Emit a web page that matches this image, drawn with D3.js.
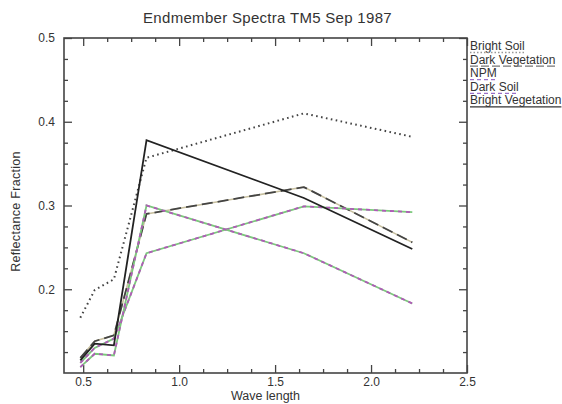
<!DOCTYPE html>
<html><head><meta charset="utf-8">
<script src="https://cdn.jsdelivr.net/npm/d3@7/dist/d3.min.js"></script>
<style>
html,body{margin:0;padding:0;background:#fff;overflow:hidden;}
text{font-family:"Liberation Sans","DejaVu Sans",sans-serif;fill:#333;}
</style></head>
<body>
<svg id="c" width="562" height="404"></svg>
<script>
// ---- data ----
const wavelengths = [0.485, 0.56, 0.66, 0.83, 1.65, 2.215];
const seriesNames = ["Bright Soil", "Dark Vegetation", "NPM", "Dark Soil", "Bright Vegetation"];
const brightSoil = [0.166, 0.199, 0.212, 0.357, 0.410, 0.382];
const darkVegetation = [0.118, 0.138, 0.145, 0.290, 0.322, 0.256];
const npm = [0.112, 0.130, 0.141, 0.243, 0.299, 0.292];
const darkSoil = [0.107, 0.123, 0.121, 0.300, 0.243, 0.183];
const brightVegetation = [0.115, 0.135, 0.133, 0.378, 0.309, 0.248];
const xTicks = [0.5, 1.0, 1.5, 2.0, 2.5];
const yTicks = [0.2, 0.3, 0.4, 0.5];
const titleText = "Endmember Spectra TM5 Sep 1987";
const xLabel = "Wave length";
const yLabel = "Reflectance Fraction";

const series = [
  {name: seriesNames[0], values: brightSoil, style: "dotted"},
  {name: seriesNames[1], values: darkVegetation, style: "longdash"},
  {name: seriesNames[2], values: npm, style: "color"},
  {name: seriesNames[3], values: darkSoil, style: "color"},
  {name: seriesNames[4], values: brightVegetation, style: "solid"}
];

const L = 64, R = 467, T = 38, B = 373;
const svg = d3.select("#c");
const x = d3.scaleLinear().domain([0.4, 2.5]).range([L, R]);
const y = d3.scaleLinear().domain([0.1, 0.5]).range([B, T]);

const xMinor = d3.range(0.375, 2.5001, 0.125).filter(v => v > 0.4 && Math.abs(v*2 - Math.round(v*2)) > 1e-6);
const yMinor = d3.range(0.1, 0.5001, 0.025).filter(v => v > 0.1001 && Math.abs(v*10 - Math.round(v*10)) > 1e-6);

const axColor = "#444";
function styleAxis(g){
  g.selectAll("path.domain").remove();
  g.selectAll("line").attr("stroke", axColor).attr("stroke-width", 1.3);
  g.selectAll("text").attr("font-size", 12).attr("fill", "#444")
    .style("font-family", '"Liberation Sans","DejaVu Sans",sans-serif');
}
// bottom
svg.append("g").attr("transform",`translate(0,${B})`)
  .call(d3.axisBottom(x).tickValues(xTicks).tickFormat(d3.format(".1f")).tickSize(-8).tickPadding(4))
  .call(styleAxis);
svg.append("g").attr("transform",`translate(0,${B})`)
  .call(d3.axisBottom(x).tickValues(xMinor).tickFormat("").tickSize(-4)).call(styleAxis);
// top
svg.append("g").attr("transform",`translate(0,${T})`)
  .call(d3.axisTop(x).tickValues(xTicks).tickFormat("").tickSize(-8)).call(styleAxis);
svg.append("g").attr("transform",`translate(0,${T})`)
  .call(d3.axisTop(x).tickValues(xMinor).tickFormat("").tickSize(-4)).call(styleAxis);
// left
svg.append("g").attr("transform",`translate(${L},0)`)
  .call(d3.axisLeft(y).tickValues(yTicks).tickFormat(d3.format(".1f")).tickSize(-8).tickPadding(9))
  .call(styleAxis);
svg.append("g").attr("transform",`translate(${L},0)`)
  .call(d3.axisLeft(y).tickValues(yMinor).tickFormat("").tickSize(-4)).call(styleAxis);
// right
svg.append("g").attr("transform",`translate(${R},0)`)
  .call(d3.axisRight(y).tickValues(yTicks).tickFormat("").tickSize(-8)).call(styleAxis);
svg.append("g").attr("transform",`translate(${R},0)`)
  .call(d3.axisRight(y).tickValues(yMinor).tickFormat("").tickSize(-4)).call(styleAxis);

// frame
svg.append("rect").attr("x", L).attr("y", T).attr("width", R-L).attr("height", B-T)
  .attr("fill","none").attr("stroke", axColor).attr("stroke-width", 1.6);

// lines
const line = d3.line().x((d,i)=>x(wavelengths[i])).y(d=>y(d));
const lg = svg.append("g");
series.forEach(s => {
  if (s.style === "dotted") {
    lg.append("path").attr("d", line(s.values)).attr("fill","none")
      .attr("stroke","#444").attr("stroke-width",2).attr("stroke-dasharray","1.6,3.4");
  } else if (s.style === "longdash") {
    lg.append("path").attr("d", line(s.values)).attr("fill","none")
      .attr("stroke","#c8c0a0").attr("stroke-width",1.6);
    lg.append("path").attr("d", line(s.values)).attr("fill","none")
      .attr("stroke","#444").attr("stroke-width",1.8).attr("stroke-dasharray","11,5");
  } else if (s.style === "color") {
    lg.append("path").attr("d", line(s.values)).attr("fill","none")
      .attr("stroke","#7cc87c").attr("stroke-width",1.8);
    lg.append("path").attr("d", line(s.values)).attr("fill","none")
      .attr("stroke","#b05ab8").attr("stroke-width",1.8).attr("stroke-dasharray","4,4");
  } else {
    lg.append("path").attr("d", line(s.values)).attr("fill","none")
      .attr("stroke","#222").attr("stroke-width",1.8);
  }
});

// title & labels
svg.append("text").attr("x", (L+R)/2 + 2).attr("y", 23).attr("text-anchor","middle")
  .attr("font-size", 15).attr("letter-spacing", 0.3).text(titleText);
svg.append("text").attr("x", (L+R)/2).attr("y", 400).attr("text-anchor","middle")
  .attr("font-size", 12.5).text(xLabel);
svg.append("text").attr("transform", `translate(20,${(T+B)/2 + 6}) rotate(-90)`)
  .attr("text-anchor","middle").attr("font-size", 12.5).attr("letter-spacing", 0.3).text(yLabel);

// legend
const leg = svg.append("g");
series.forEach((s,i) => {
  const yy = 50 + i*13.6;
  const t = leg.append("text").attr("x", 470).attr("y", yy).attr("font-size", 12).text(s.name);
  const w = t.node().getComputedTextLength();
  const ul = leg.append("line").attr("x1", 470).attr("x2", 470 + w).attr("y1", yy+2.5).attr("y2", yy+2.5)
    .attr("stroke-width", 1.3);
  if (s.style === "dotted") ul.attr("stroke","#999").attr("stroke-dasharray","1.5,2");
  else if (s.style === "longdash") ul.attr("stroke","#777").attr("stroke-dasharray","8,3");
  else if (s.style === "color") ul.attr("stroke","#9a70c8").attr("stroke-dasharray","4,3");
  else ul.attr("stroke","#333");
});
</script>
</body></html>
